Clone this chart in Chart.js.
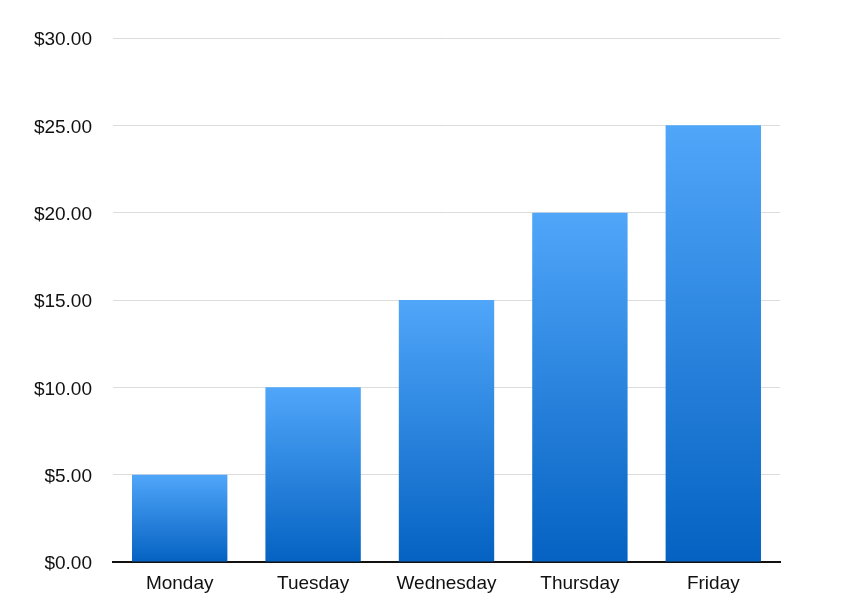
<!DOCTYPE html>
<html>
<head>
<meta charset="utf-8">
<style>
  html, body { margin: 0; padding: 0; background: #fff; }
  #wrap { width: 850px; height: 614px; }
</style>
<script src="https://cdn.jsdelivr.net/npm/chart.js@4"></script>
</head>
<body>
<div id="wrap"><canvas id="chart"></canvas></div>
<script>
const days = ['Monday', 'Tuesday', 'Wednesday', 'Thursday', 'Friday'];
const amounts = [5, 10, 15, 20, 25];
const yTicks = [0, 5, 10, 15, 20, 25, 30];

// each bar gets its own vertical gradient, light at its top, dark at its base
function barFill(ctx) {
  const chart = ctx.chart;
  if (!chart.chartArea || ctx.type !== 'data') return '#2a86e0';
  const y = chart.scales.y;
  const top = y.getPixelForValue(ctx.raw);
  const base = y.getPixelForValue(0);
  if (!isFinite(top) || top === base) return '#2a86e0';
  const g = chart.ctx.createLinearGradient(0, top, 0, base);
  g.addColorStop(0, '#50a6f9');
  g.addColorStop(1, '#0562c2');
  return g;
}

new Chart(document.getElementById('chart'), {
  type: 'bar',
  data: {
    labels: days,
    datasets: [{
      data: amounts,
      backgroundColor: barFill,
      borderWidth: 0,
      barPercentage: 0.715,
      categoryPercentage: 1,
    }],
  },
  options: {
    responsive: true,
    maintainAspectRatio: false,
    animation: false,
    layout: { padding: { top: 38, right: 70, bottom: 10, left: 0 } },
    plugins: { legend: { display: false }, tooltip: { enabled: false } },
    scales: {
      x: {
        offset: true,
        grid: { display: false, drawTicks: false },
        border: { display: true, color: '#111', width: 2 },
        ticks: { color: '#111', padding: 10, font: { family: 'Liberation Sans', size: 19 } },
        afterFit: function (s) { s.height = 42; },
      },
      y: {
        min: 0,
        max: 30,
        afterBuildTicks: function (s) { s.ticks = yTicks.map(function (v) { return { value: v }; }); },
        grid: { color: '#dcdcdc', lineWidth: 1, drawTicks: false },
        border: { display: false },
        ticks: {
          color: '#111',
          padding: 21,
          labelOffset: 2,
          font: { family: 'Liberation Sans', size: 19 },
          callback: function (v) { return '$' + Number(v).toFixed(2); },
        },
        afterFit: function (s) { s.width = 113; },
      },
    },
  },
});
</script>
</body>
</html>
